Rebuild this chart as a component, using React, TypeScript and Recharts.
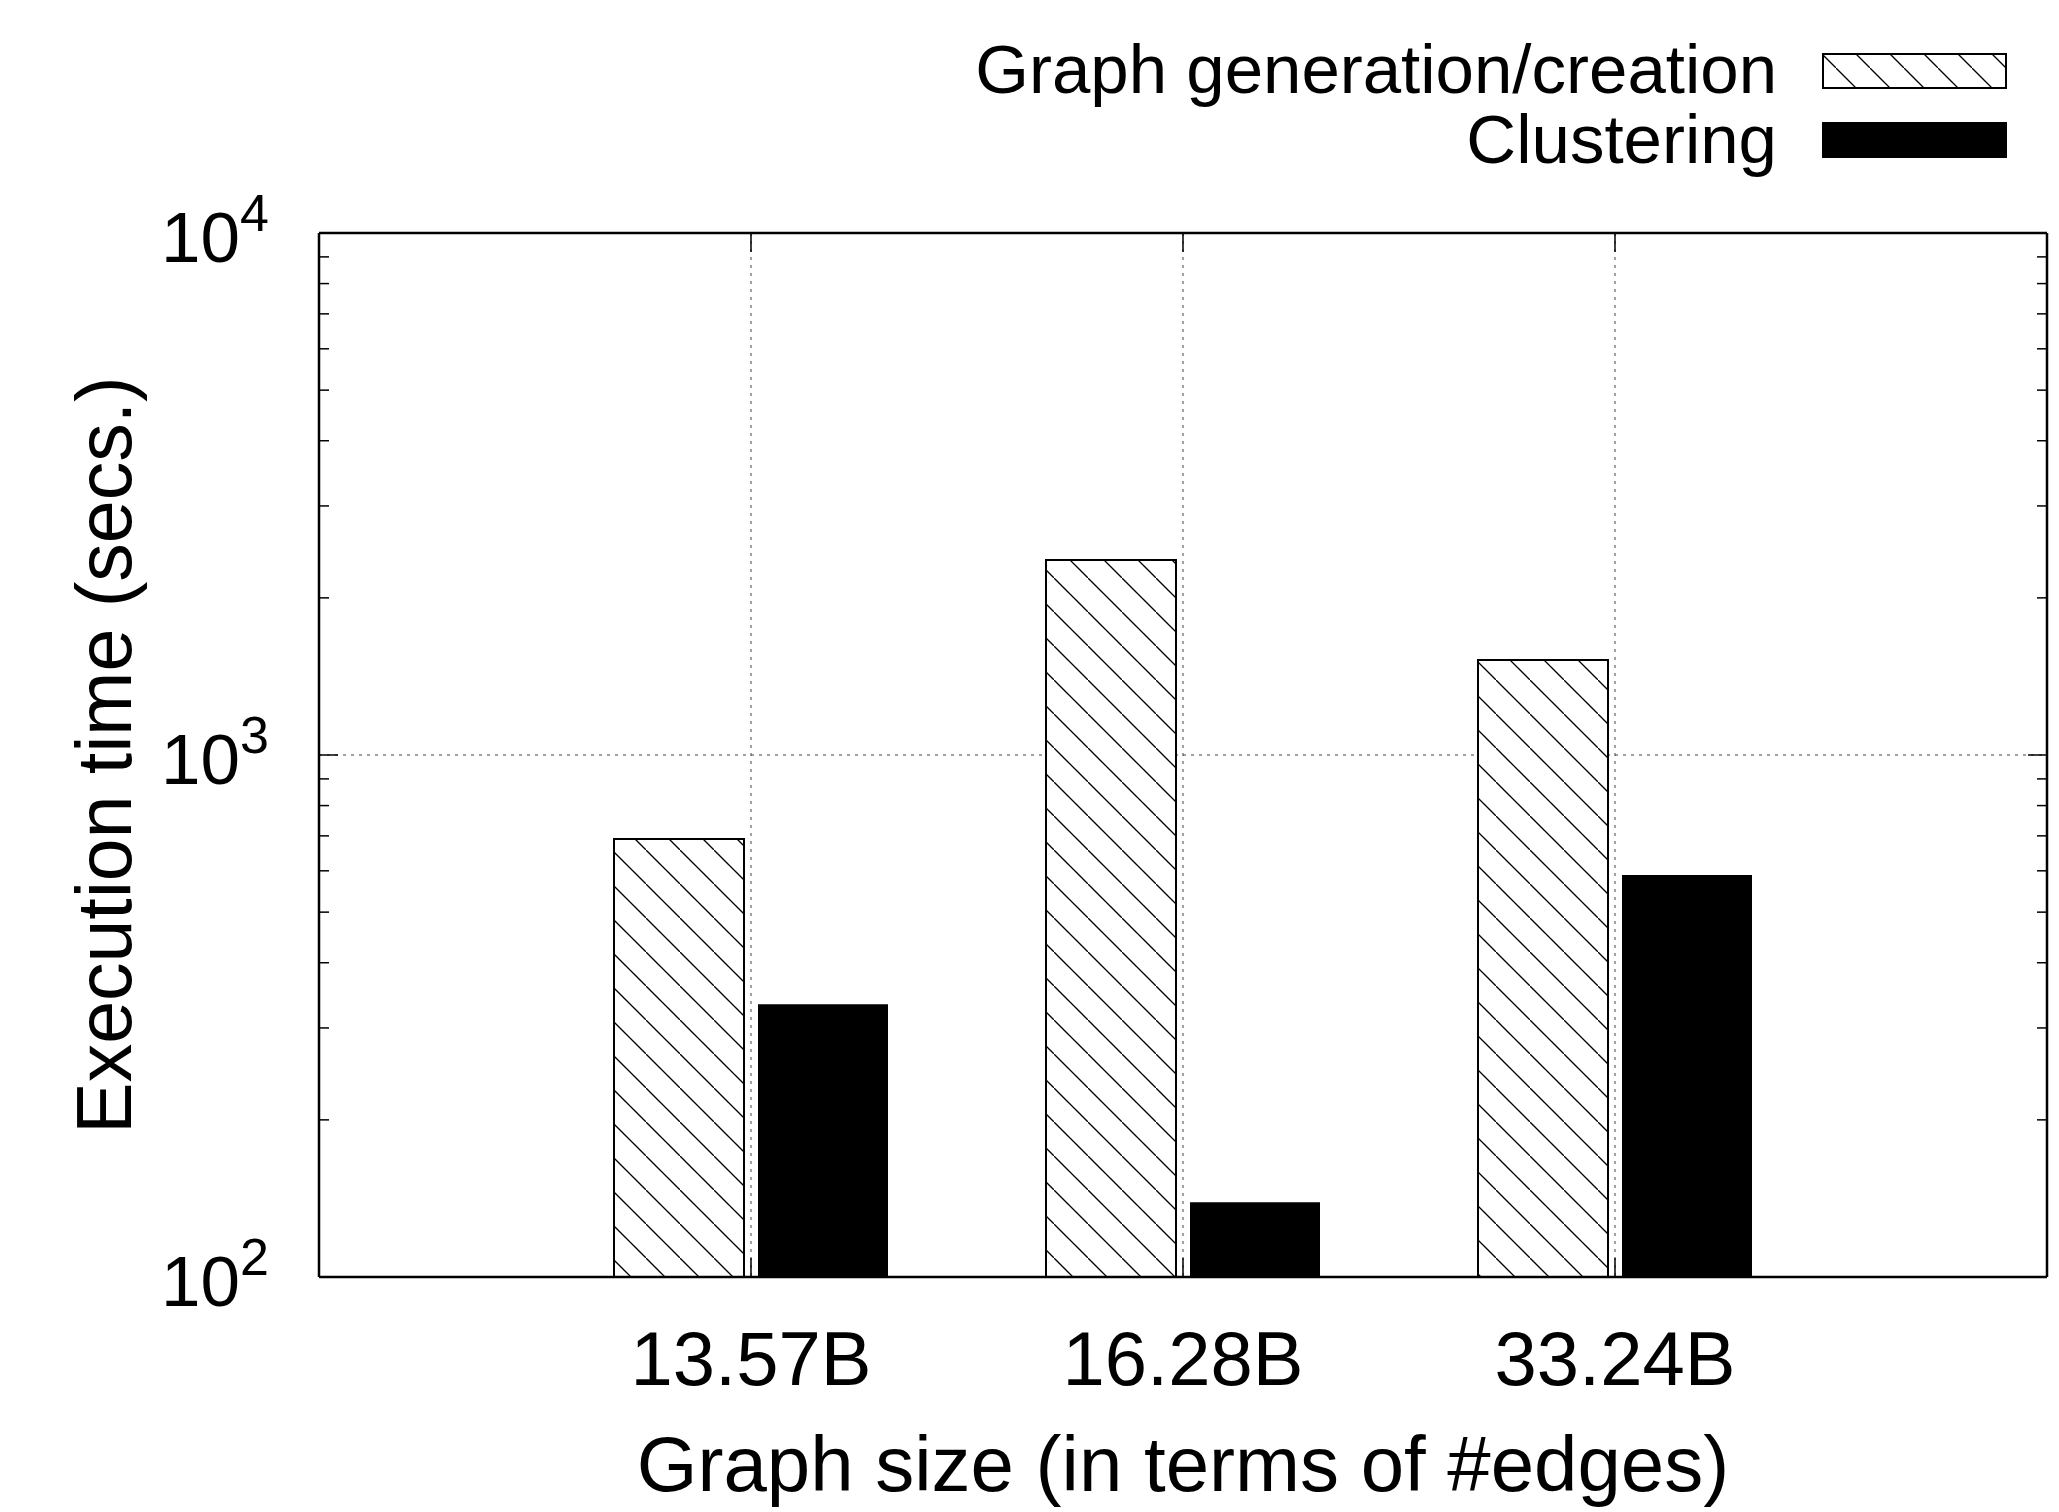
import React from 'react'
import { BarChart, Bar, XAxis, YAxis, CartesianGrid, Label } from 'recharts'

const categories = ['13.57B', '16.28B', '33.24B']
const generationTimes = [690, 2363, 1521]
const clusteringTimes = [333, 139, 589]
const majorTicks = [100, 1000, 10000]
const minorTicks = [200, 300, 400, 500, 600, 700, 800, 900, 2000, 3000, 4000, 5000, 6000, 7000, 8000, 9000]
const seriesNames = ['Graph generation/creation', 'Clustering']

const data = categories.map((size, i) => ({
    size,
    generation: generationTimes[i],
    clustering: clusteringTimes[i],
}))
const allTicks = [...majorTicks, ...minorTicks].sort((a, b) => a - b)

const FONT = '"Liberation Sans", Arial, Helvetica, sans-serif'
const GRID = '#444'

// gnuplot style: ticks point into the plot, minor ones shorter
const LeftTick = ({ x, y, payload }: any) => {
    const major = majorTicks.includes(payload.value)
    const exp = Math.round(Math.log10(payload.value))
    return (
        <g>
            <line x1={x} x2={x + (major ? 19 : 10)} y1={y} y2={y} stroke="#000" strokeWidth={1.5} />
            {major && (
                <text x={x - 50} y={y + 29} textAnchor="end" fontSize={71} fill="#000" fontFamily={FONT}>
                    10<tspan dy={-31} fontSize={52}>{exp}</tspan>
                </text>
            )}
        </g>
    )
}

const RightTick = ({ x, y, payload }: any) => {
    const major = majorTicks.includes(payload.value)
    return <line x1={x - (major ? 19 : 10)} x2={x} y1={y} y2={y} stroke="#000" strokeWidth={1.5} />
}

const BottomTick = ({ x, y, payload }: any) => (
    <g>
        <line x1={x} x2={x} y1={y} y2={y - 19} stroke="#000" strokeWidth={1.5} />
        <text x={x} y={y + 108} textAnchor="middle" fontSize={76} fill="#000" fontFamily={FONT}>
            {payload.value}
        </text>
    </g>
)

const TopTick = ({ x, y }: any) => (
    <line x1={x} x2={x} y1={y} y2={y + 19} stroke="#000" strokeWidth={1.5} />
)

const YTitle = ({ viewBox }: any) => (
    <text
        transform={`translate(${viewBox.x + viewBox.width - 188}, ${viewBox.y + viewBox.height / 2}) rotate(-90)`}
        textAnchor="middle"
        fontSize={77}
        fill="#000"
        fontFamily={FONT}
    >
        Execution time (secs.)
    </text>
)

const XTitle = ({ viewBox }: any) => (
    <text
        x={viewBox.x + viewBox.width / 2}
        y={viewBox.y + 214}
        textAnchor="middle"
        fontSize={78}
        fill="#000"
        fontFamily={FONT}
    >
        Graph size (in terms of #edges)
    </text>
)

const HatchPattern = ({ id }: { id: string }) => (
    <pattern id={id} patternUnits="userSpaceOnUse" width={34} height={34}>
        <rect width={34} height={34} fill="#fff" />
        <path d="M-2,-2 L36,36" stroke="#000" strokeWidth={1.3} />
    </pattern>
)

const ChartLegend = () => (
    <svg width={2059} height={180} style={{ position: 'absolute', top: 0, left: 0 }}>
        <defs>
            <HatchPattern id="legendHatch" />
        </defs>
        {seriesNames.map((name, i) => (
            <g key={name}>
                <text x={1777} y={93 + i * 70} textAnchor="end" fontSize={69} fill="#000" fontFamily={FONT}>
                    {name}
                </text>
                <rect
                    x={1823}
                    y={54 + i * 69}
                    width={183}
                    height={34}
                    fill={i === 0 ? 'url(#legendHatch)' : '#000'}
                    stroke="#000"
                    strokeWidth={2}
                />
            </g>
        ))}
    </svg>
)

const axisLine = { stroke: '#000', strokeWidth: 2.5 }

export default function App() {
    return (
        <div style={{ position: 'relative', width: 2059, height: 1512, background: '#fff' }}>
            <style>{'body { margin: 0; }'}</style>
            <BarChart
                width={2059}
                height={1512}
                data={data}
                margin={{ top: 223, right: 2, bottom: 135, left: 219 }}
                barSize={130}
                barGap={14}
                style={{ fontFamily: FONT }}
            >
                <defs>
                    <HatchPattern id="barHatch" />
                </defs>
                <CartesianGrid
                    stroke={GRID}
                    strokeDasharray="3 5"
                    horizontalValues={[1000]}
                />
                <XAxis
                    dataKey="size"
                    padding={{ left: 216, right: 216 }}
                    height={100}
                    tickSize={0}
                    tickMargin={0}
                    tickLine={false}
                    interval={0}
                    axisLine={axisLine}
                    tick={<BottomTick />}
                >
                    <Label content={<XTitle />} />
                </XAxis>
                <XAxis
                    xAxisId="top"
                    orientation="top"
                    dataKey="size"
                    padding={{ left: 216, right: 216 }}
                    height={10}
                    tickSize={0}
                    tickMargin={0}
                    tickLine={false}
                    interval={0}
                    axisLine={axisLine}
                    tick={<TopTick />}
                />
                <YAxis
                    scale="log"
                    domain={[100, 10000]}
                    allowDataOverflow
                    ticks={allTicks}
                    interval={0}
                    width={100}
                    tickSize={0}
                    tickMargin={0}
                    tickLine={false}
                    axisLine={axisLine}
                    tick={<LeftTick />}
                >
                    <Label content={<YTitle />} />
                </YAxis>
                <YAxis
                    yAxisId="right"
                    orientation="right"
                    scale="log"
                    domain={[100, 10000]}
                    allowDataOverflow
                    ticks={allTicks}
                    interval={0}
                    width={10}
                    tickSize={0}
                    tickMargin={0}
                    tickLine={false}
                    axisLine={axisLine}
                    tick={<RightTick />}
                />
                <Bar
                    dataKey="generation"
                    name={seriesNames[0]}
                    fill="url(#barHatch)"
                    stroke="#000"
                    strokeWidth={2}
                    isAnimationActive={false}
                />
                <Bar
                    dataKey="clustering"
                    name={seriesNames[1]}
                    fill="#000"
                    isAnimationActive={false}
                />
            </BarChart>
            <ChartLegend />
        </div>
    )
}
